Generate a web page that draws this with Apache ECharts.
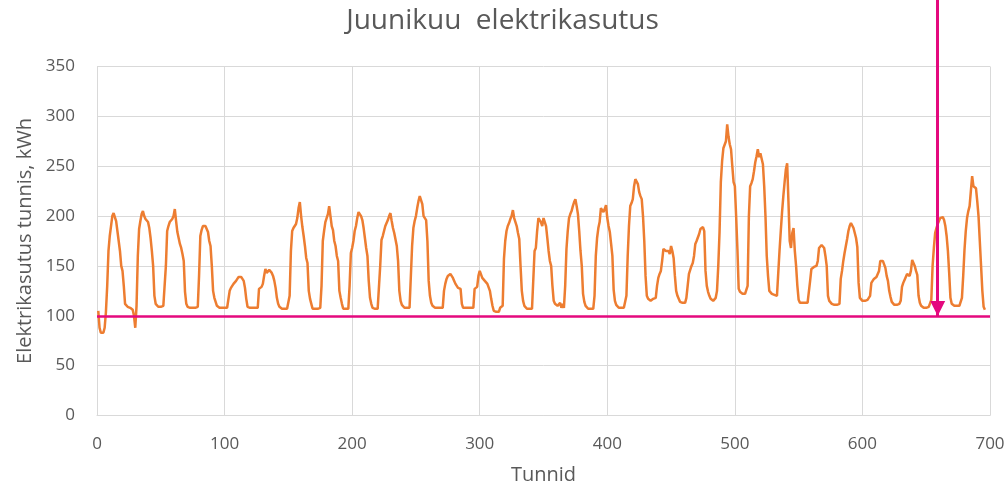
<!DOCTYPE html>
<html>
<head>
<meta charset="utf-8">
<script src="https://cdn.jsdelivr.net/npm/echarts@6/dist/echarts.min.js"></script>
<style>html,body{margin:0;padding:0;background:#fff}#c{width:1005px;height:486px}</style>
</head>
<body>
<div id="c"></div>
<script>
// hourly consumption (kWh), one array per day of June
const d00 = [105,88,83,82,83,88,104,130,165,180,190,200,203,202,195,185,175,165,150,145,130,112,110,109];
const d01 = [109,108,107,106,100,88,110,160,187,195,202,205,200,197,195,194,188,178,165,150,120,112,110,109];
const d02 = [109,109,109,110,110,150,185,190,194,195,197,200,207,195,184,178,172,168,162,155,124,112,109,107];
const d03 = [108,108,108,108,108,108,109,140,180,186,190,190,190,188,184,175,170,150,125,118,114,110,109,108];
const d04 = [108,108,108,108,108,108,108,125,128,130,132,134,135,137,139,140,139,138,135,128,117,109,108,108];
const d05 = [108,108,108,108,108,108,127,128,129,132,140,147,143,144,146,145,143,140,135,128,118,112,109,108];
const d06 = [107,107,107,107,107,107,120,165,185,188,190,192,198,208,214,200,189,180,170,158,153,125,117,112];
const d07 = [107,107,107,107,107,107,108,130,175,185,194,198,202,210,200,190,186,175,170,160,155,125,118,112];
const d08 = [107,107,107,107,107,130,163,168,175,185,190,198,204,205,200,196,188,178,168,160,135,118,112,108];
const d09 = [107,107,107,107,107,150,176,180,185,190,193,196,200,203,195,188,183,183,170,155,125,115,111,109];
const d10 = [108,108,108,108,108,108,170,188,195,200,208,215,220,222,212,200,198,196,175,135,120,113,110,108];
const d11 = [108,108,108,108,108,108,108,125,132,137,140,141,142,140,138,135,132,130,128,128,127,112,108,108];
const d12 = [108,108,108,108,108,108,108,127,128,129,140,145,144,138,136,135,134,132,132,125,117,110,105,103];
const d13 = [104,106,104,108,106,110,157,175,185,190,193,197,200,206,198,194,190,183,177,150,125,115,110,108];
const d14 = [107,107,107,107,107,107,165,168,185,198,197,194,190,198,200,190,178,165,155,150,130,115,112,110];
const d15 = [110,108,113,108,112,108,130,167,185,198,202,205,210,214,217,210,202,185,165,150,122,114,110,108];
const d16 = [107,107,107,107,107,120,160,178,188,194,208,206,204,207,211,198,190,184,172,160,126,115,111,109];
const d17 = [108,108,108,108,108,108,120,160,190,210,213,217,230,237,239,232,224,220,217,200,175,140,120,117];
const d18 = [116,115,116,117,115,118,130,138,142,145,155,167,166,165,163,165,162,170,165,158,140,125,120,117];
const d19 = [114,113,113,114,113,118,130,142,146,150,153,160,172,175,174,182,187,188,189,185,145,130,124,120];
const d20 = [117,116,115,115,118,125,150,184,234,255,268,270,275,292,280,272,267,250,234,230,200,167,127,124];
const d21 = [122,122,121,122,122,130,200,230,233,237,245,254,260,267,259,263,265,252,230,200,160,140,125,123];
const d22 = [122,121,121,120,120,120,165,185,204,220,234,247,253,215,175,168,183,188,165,150,130,116,113,113];
const d23 = [113,112,113,112,113,115,135,147,148,149,149,150,155,168,170,171,170,168,160,150,120,115,114,112];
const d24 = [112,111,110,111,110,112,137,145,155,163,170,177,185,190,193,192,188,186,178,169,133,118,116,115];
const d25 = [115,115,115,116,116,120,133,135,137,138,139,139,145,155,156,155,154,148,140,135,125,119,114,112];
const d26 = [111,111,111,111,112,115,129,133,136,139,142,144,140,145,156,153,150,145,141,120,113,110,109,108];
const d27 = [108,108,108,109,110,116,150,168,183,188,192,195,198,200,199,196,190,180,165,143,118,112,110,110];
const d28 = [110,110,110,110,110,118,140,166,185,198,205,210,225,240,230,229,228,215,200,175,150,125,109,106];

const xTicks = [0,100,200,300,400,500,600,700];
const yTicks = [0,50,100,150,200,250,300,350];
const baseLevel = 100;          // horizontal reference line
const arrowHour = 659;          // vertical arrow position
const arrowTop = 417.6;         // top of arrow (overlay axis units)

const days = [d00,d01,d02,d03,d04,d05,d06,d07,d08,d09,d10,d11,d12,d13,d14,d15,d16,d17,d18,d19,d20,d21,d22,d23,d24,d25,d26,d27,d28];
const values = [].concat(...days);
const seriesData = values.map((v,i)=>[i+1, v]);

const FONT = 'Open Sans, Noto Sans, sans-serif';
const gray = '#595959';
const gridCol = '#d9d9d9';
const magenta = '#E4097E';

const chart = echarts.init(document.getElementById('c'), null, {renderer:'canvas'});
chart.setOption({
  animation:false,
  backgroundColor:'#fff',
  title:{text:'Juunikuu  elektrikasutus', left:'center', top:2,
    textStyle:{fontFamily:FONT, fontSize:28, fontWeight:'normal', color:gray}},
  grid:[
    {left:97, right:15, top:66.5, bottom:70.5, containLabel:false, outerBoundsMode:'none'},
    {left:97, right:15, top:0, bottom:70.5, containLabel:false, outerBoundsMode:'none'}
  ],
  xAxis:[
    {type:'value', gridIndex:0, min:xTicks[0], max:xTicks[xTicks.length-1], interval:100,
     name:'Tunnid', nameLocation:'middle', nameGap:50,
     nameTextStyle:{fontFamily:FONT, fontSize:20, color:gray},
     axisLine:{show:true, lineStyle:{color:gridCol, width:1}},
     axisTick:{show:false},
     axisLabel:{fontFamily:FONT, fontSize:17, color:gray, margin:20},
     splitLine:{show:true, lineStyle:{color:gridCol, width:1}}},
    {type:'value', gridIndex:1, min:0, max:700, show:false}
  ],
  yAxis:[
    {type:'value', gridIndex:0, min:yTicks[0], max:yTicks[yTicks.length-1], interval:50,
     name:'Elektrikasutus tunnis, kWh', nameLocation:'middle', nameGap:62,
     nameTextStyle:{fontFamily:FONT, fontSize:20, color:gray},
     axisLine:{show:true, lineStyle:{color:gridCol, width:1}},
     axisTick:{show:false},
     axisLabel:{fontFamily:FONT, fontSize:17, color:gray, margin:22},
     splitLine:{show:true, lineStyle:{color:gridCol, width:1}}},
    {type:'value', gridIndex:1, min:0, max:arrowTop, show:false}
  ],
  series:[
    {type:'line', xAxisIndex:0, yAxisIndex:0, data:seriesData, showSymbol:false,
     lineStyle:{color:'#ED7D31', width:2.5}, itemStyle:{color:'#ED7D31'}, z:2,
     markLine:{silent:true, symbol:['none','none'], label:{show:false}, z:5,
       lineStyle:{color:magenta, width:2.5, type:'solid'},
       data:[[{coord:[xTicks[0], baseLevel]},{coord:[xTicks[xTicks.length-1], baseLevel]}]]}},
    {type:'line', xAxisIndex:1, yAxisIndex:1, data:[], z:6,
     markLine:{silent:true, symbol:['none','triangle'], symbolSize:[15,15], symbolOffset:[0,[0,7.5]],
       label:{show:false}, z:6,
       lineStyle:{color:magenta, width:3, type:'solid'},
       data:[[{coord:[arrowHour, arrowTop]},{coord:[arrowHour, baseLevel]}]]}}
  ]
});
</script>
</body>
</html>
